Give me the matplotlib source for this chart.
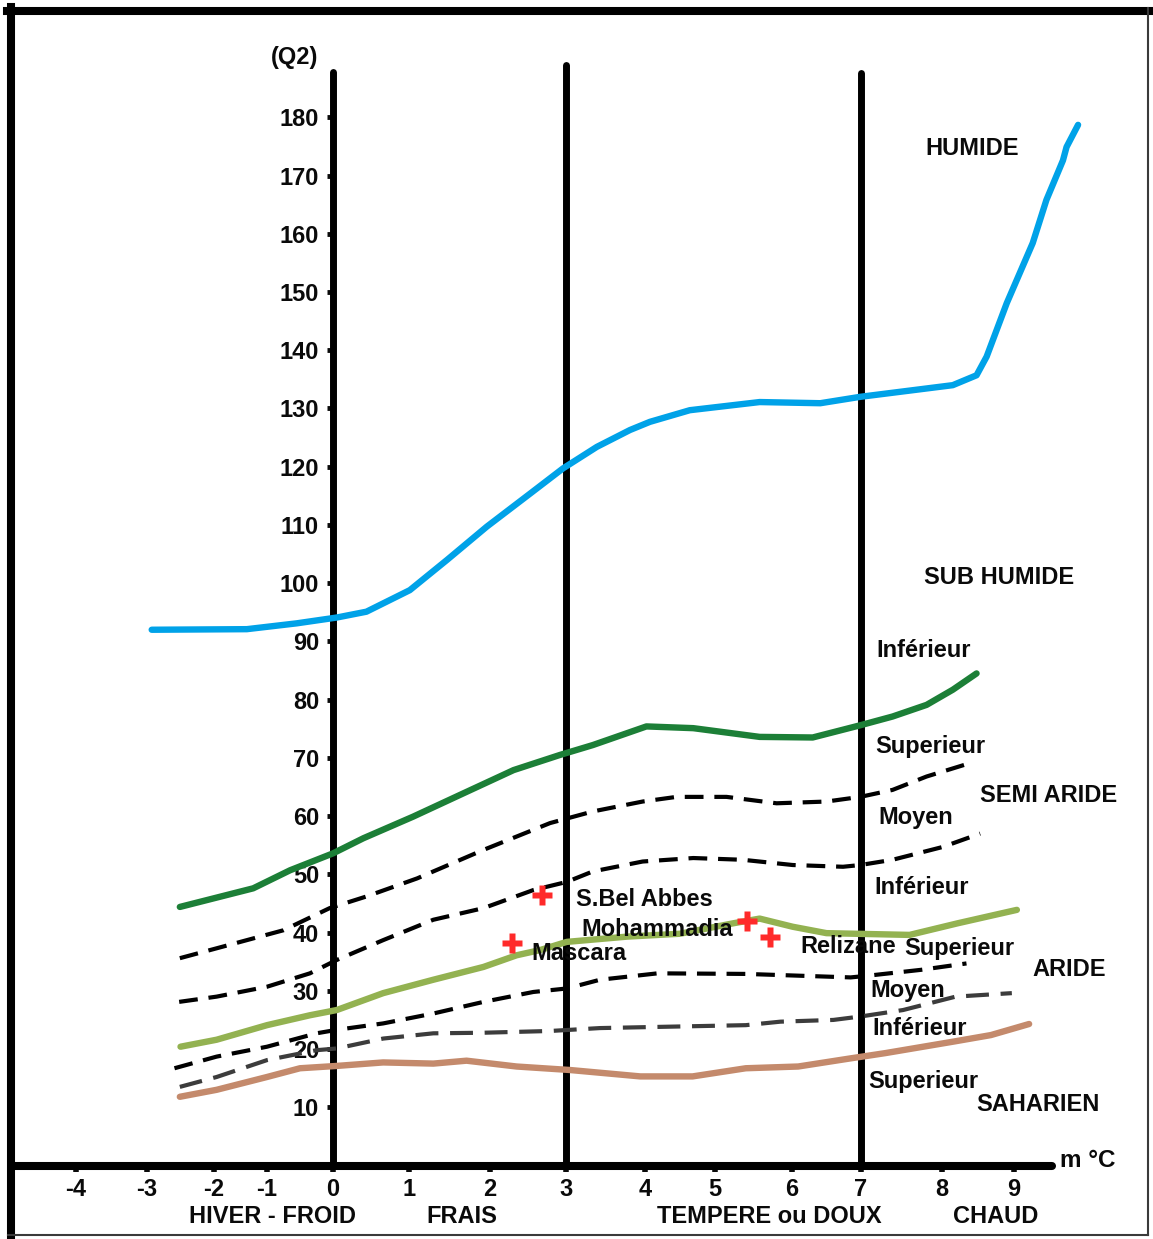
import matplotlib.pyplot as plt
from matplotlib.lines import Line2D
import numpy as np

plt.rcParams['font.family'] = ['Liberation Sans', 'DejaVu Sans']
plt.rcParams['font.weight'] = 'bold'
plt.rcParams['axes.unicode_minus'] = False

W, H = 1153, 1239
INK = '#0a0a0a'

# the m axis is not evenly spaced: pixel position of every whole degree
M_TICKS = [-4, -3, -2, -1, 0, 1, 2, 3, 4, 5, 6, 7, 8, 9]
M_POS = [76, 147, 214, 267, 333, 409, 490, 566, 645, 715, 792, 861, 942, 1014]
Q_TICKS = list(range(10, 190, 10))

# limit curves of the bioclimatic stages (m in degC, Q2)
humide_m = [-2.93, -1.38, -0.55, 0.05, 0.44, 1.01, 1.47, 1.96, 2.53, 2.96, 3.39, 3.81, 4.07,
            4.64, 5.58, 6.41, 6.99, 8.15, 8.48, 8.62, 8.90, 9.26, 9.45, 9.68, 9.73, 9.89]
humide_q = [92.0, 92.1, 93.1, 94.1, 95.1, 98.8, 104.0, 109.7, 115.4, 119.7, 123.4, 126.3, 127.7,
            129.7, 131.1, 130.9, 132.0, 134.0, 135.7, 138.9, 148.1, 158.4, 165.8, 172.6, 174.9, 178.7]

subhum_m = [-2.51, -1.26, -0.65, 0.0, 0.40, 1.05, 1.67, 2.31, 2.92, 3.34, 4.02, 4.69, 5.58,
            6.30, 6.99, 7.39, 7.81, 8.15, 8.48]
subhum_q = [44.4, 47.6, 50.7, 53.6, 56.2, 59.9, 63.9, 67.9, 70.5, 72.2, 75.4, 75.1, 73.6,
            73.5, 75.6, 77.1, 79.1, 81.7, 84.5]

semi_sup_m = [-2.51, -1.95, -0.75, -0.05, 0.44, 1.10, 1.92, 2.79, 3.34, 3.97, 4.45, 5.15, 5.80,
              6.50, 6.99, 7.39, 7.81, 8.39]
semi_sup_q = [35.6, 37.3, 40.4, 44.2, 46.2, 49.3, 54.2, 58.8, 60.8, 62.5, 63.3, 63.3, 62.2,
              62.5, 63.3, 64.5, 66.8, 69.1]

semi_moy_m = [-2.52, -1.95, -1.0, -0.35, 0.05, 0.66, 1.30, 1.92, 2.57, 3.01, 3.34, 3.97, 4.69,
              5.36, 6.01, 6.74, 6.99, 7.39, 8.01, 8.53]
semi_moy_q = [28.1, 29.0, 30.7, 33.0, 35.3, 38.7, 42.2, 44.2, 47.3, 48.7, 50.5, 52.2, 52.8,
              52.5, 51.6, 51.3, 51.6, 52.5, 54.7, 57.0]

semi_inf_m = [-2.50, -1.95, -1.0, -0.35, 0.05, 0.66, 1.30, 1.92, 2.35, 2.66, 3.01, 3.77, 4.5,
              5.24, 5.58, 6.01, 6.50, 7.60, 8.22, 9.04]
semi_inf_q = [20.4, 21.6, 24.1, 25.8, 26.7, 29.6, 31.9, 34.1, 36.1, 37.0, 38.4, 39.3, 39.8,
              41.6, 42.4, 41.0, 39.9, 39.6, 41.6, 43.9]

aride_sup_m = [-2.59, -1.95, -1.0, -0.25, 0.05, 0.66, 1.30, 1.92, 2.57, 3.01, 3.43, 4.18, 5.40,
               6.85, 7.09, 7.74, 8.34]
aride_sup_q = [16.7, 18.7, 20.4, 22.7, 23.3, 24.4, 26.1, 28.1, 29.8, 30.4, 31.9, 33.0, 32.9,
               32.3, 32.6, 33.6, 34.7]

aride_moy_m = [-2.51, -1.95, -1.0, -0.25, 0.05, 0.66, 1.30, 1.92, 2.79, 3.43, 4.18, 5.40, 5.85,
               6.60, 7.00, 7.52, 8.19, 8.97]
aride_moy_q = [13.5, 15.2, 18.1, 19.8, 20.1, 21.8, 22.7, 22.8, 23.1, 23.6, 23.8, 24.1, 24.7,
               25.0, 25.6, 26.7, 29.0, 29.6]

aride_inf_m = [-2.51, -1.95, -1.0, -0.5, 0.05, 0.66, 1.30, 1.71, 2.35, 3.05, 3.94, 4.68, 5.40,
               6.09, 6.85, 7.30, 8.17, 8.68, 9.21]
aride_inf_q = [11.8, 13.0, 15.2, 16.7, 17.1, 17.7, 17.5, 18.0, 17.0, 16.4, 15.3, 15.3, 16.7,
               17.0, 18.4, 19.3, 21.3, 22.4, 24.3]

# stations
station_names = ['S.Bel Abbes', 'Mascara', 'Mohammadia', 'Relizane']
station_m = [2.68, 2.29, 5.42, 5.71]
station_q = [46.4, 38.2, 42.0, 39.2]
station_offsets = [(34, -4, 'left'), (19, -10, 'left'), (-14, -9, 'right'), (31, -9, 'left')]

# stage / variant names: (text, m, Q) of the left edge
zone_labels = [
    ('HUMIDE', 7.79, 174.7),
    ('SUB HUMIDE', 7.78, 100.9),
    ('Inférieur', 7.19, 88.5),
    ('Superieur', 7.17, 71.9),
    ('SEMI ARIDE', 8.53, 63.6),
    ('Moyen', 7.21, 59.7),
    ('Inférieur', 7.17, 47.7),
    ('Superieur', 7.54, 37.3),
    ('ARIDE', 9.25, 33.6),
    ('Moyen', 7.11, 30.0),
    ('Inférieur', 7.14, 23.5),
    ('Superieur', 7.09, 14.5),
    ('SAHARIEN', 8.47, 10.4),
]
winter_labels = [('HIVER - FROID', -0.91), ('FRAIS', 1.65),
                 ('TEMPERE ou DOUX', 5.71), ('CHAUD', 8.74)]

KM = [-20] + M_TICKS + [25]
KP = [M_POS[0] - 16 * 71] + M_POS + [M_POS[-1] + 16 * 72]


def fwd(m):
    return np.interp(m, KM, KP)


def inv(p):
    return np.interp(p, KP, KM)


fig = plt.figure(figsize=(W / 100, H / 100), dpi=100)
ax = fig.add_axes([0, 0, 1, 1])
ax.set_xscale('function', functions=(fwd, inv))
ax.set_xlim(inv(0), inv(W))
ax.set_ylim(-12.62, 200.14)

# axes drawn through the origin, m = 0 is the Q2 axis
for s in ['top', 'right']:
    ax.spines[s].set_visible(False)
ax.spines['left'].set_position(('data', 0))
ax.spines['bottom'].set_position(('data', 0))
ax.spines['left'].set_bounds(0, 187.8)
ax.spines['bottom'].set_bounds(-4.9, 9.53)
ax.spines['left'].set_linewidth(5)
ax.spines['bottom'].set_linewidth(5.8)
ax.spines['bottom'].set_capstyle('round')
ax.spines['left'].set_capstyle('round')

ax.set_xticks(M_TICKS)
ax.set_yticks(Q_TICKS)
ax.tick_params(axis='x', direction='out', length=4, width=4, pad=5, labelsize=17,
               colors=INK)
ax.tick_params(axis='y', direction='out', length=4, width=3.5, pad=6, labelsize=17,
               colors=INK)

# boundaries between winter variants
ax.plot([3, 3], [0, 189.0], color='black', lw=5, solid_capstyle='round', zorder=2)
ax.plot([7, 7], [0, 187.6], color='black', lw=5, solid_capstyle='round', zorder=2)

solid = dict(lw=4.6, solid_capstyle='round', solid_joinstyle='round', zorder=3)
dash = dict(lw=3, dashes=(4.5, 2.6), zorder=3)
ax.plot(humide_m, humide_q, color='#00a2e8', **solid)
ax.plot(subhum_m, subhum_q, color='#1c7f37', **solid)
ax.plot(semi_sup_m, semi_sup_q, color='black', **dash)
ax.plot(semi_moy_m, semi_moy_q, color='black', **dash)
ax.plot(semi_inf_m, semi_inf_q, color='#93b251', **solid)
ax.plot(aride_sup_m, aride_sup_q, color='black', **dash)
ax.plot(aride_moy_m, aride_moy_q, color='#3c3c3c', lw=3, dashes=(5.5, 2.8), zorder=3)
ax.plot(aride_inf_m, aride_inf_q, color='#c48a6c', **solid)

ax.plot(station_m, station_q, 'P', color='#ff2a2a', ms=15, mec='none', zorder=5)
for name, m, q, (dx, dy, ha) in zip(station_names, station_m, station_q, station_offsets):
    ax.annotate(name, (m, q), xytext=(dx, dy), textcoords='offset pixels',
                ha=ha, va='center', fontsize=17, color=INK, zorder=6)

for text, m, q in zone_labels:
    ax.text(m, q, text, ha='left', va='center', fontsize=17, color=INK, zorder=6)

for text, m in winter_labels:
    ax.text(m, -8.84, text, ha='center', va='center', fontsize=17, color=INK)

ax.text(9.64, 0.9, 'm °C', ha='left', va='center', fontsize=17.5, color=INK)
ax.text(-0.58, 190.2, '(Q2)', ha='center', va='center', fontsize=17, color=INK)

# picture frame: heavy on top and left, thin on the other two sides
def frame(xs, ys, **kw):
    fig.add_artist(Line2D([x / W for x in xs], [1 - y / H for y in ys],
                          transform=fig.transFigure, **kw))

frame([7, 1150], [11, 11], color='black', lw=5.8)
frame([11, 11], [7, 1236], color='black', lw=5.8)
frame([1148, 1148], [8, 1235], color='#3a3a3a', lw=1.5)
frame([8, 1148], [1235, 1235], color='#3a3a3a', lw=1.5)

fig.savefig('out.png', dpi=100)
